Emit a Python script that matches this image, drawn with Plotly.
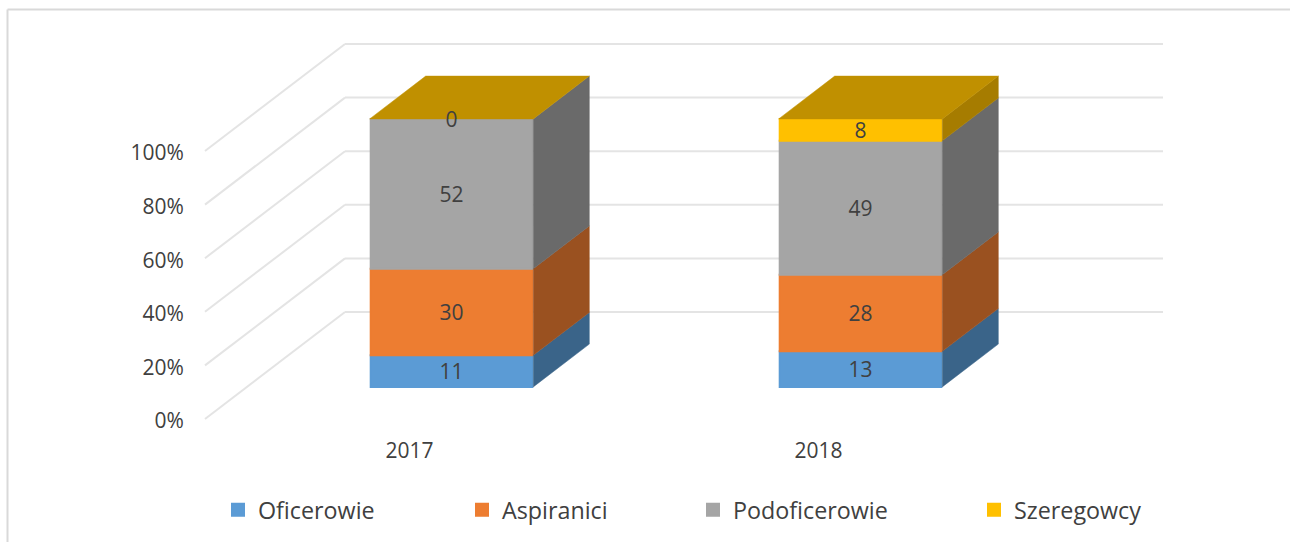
import plotly.graph_objects as go

# ---- data ----
categories = ["2017", "2018"]
series_names = ["Oficerowie", "Aspiranici", "Podoficerowie", "Szeregowcy"]
oficerowie = [11, 13]
aspiranici = [30, 28]
podoficerowie = [52, 49]
szeregowcy = [0, 8]
y_ticks = [0, 20, 40, 60, 80, 100]
y_tick_labels = ["0%", "20%", "40%", "60%", "80%", "100%"]

front_colors = ["#5B9BD5", "#ED7D31", "#A5A5A5", "#FFC000"]
side_colors = ["#3A6489", "#9A5120", "#6A6A6A", "#A67C00"]
top_color = "#C09000"
grid_color = "#E4E4E4"
frame_color = "#D9D9D9"
text_color = "#404040"
font_family = "Open Sans"

# ---- layout geometry (pixels of the 1290x542 page) ----
W, H = 1290, 542
PX_PER_CAT = 409.0
PX_PER_PCT = 2.68
CAT0_PX = 409.5
ZERO_PX = 419.0
DEPTH_X = 140.0 / PX_PER_CAT     # wall depth in x units
DEPTH_Y = 107.0 / PX_PER_PCT     # wall depth in y units
BAR_FRONT = 0.3                  # bar starts this far into the depth
BAR_DEPTH = 0.4
BAR_WIDTH = 0.4
EDGE = 2.0 / PX_PER_CAT
LABEL_NUDGE = 3.0 / PX_PER_PCT   # optical centring of the data labels

all_values = [oficerowie, aspiranici, podoficerowie, szeregowcy]
x_pos = [i for i in range(len(categories))]
bar_x = [x + BAR_FRONT * DEPTH_X for x in x_pos]
totals = [sum(v[i] for v in all_values) for i in x_pos]

# normalised stack
bottoms, heights = [], []
running = [0.0] * len(x_pos)
for vals in all_values:
    pct = [100.0 * vals[i] / totals[i] for i in x_pos]
    bottoms.append(list(running))
    heights.append(pct)
    running = [running[i] + pct[i] for i in x_pos]

fig = go.Figure()
shapes = []

# wall / floor grid lines, behind everything
for t in y_ticks:
    x_a, x_b = -0.5, -0.5 + DEPTH_X
    x_c = 1.5 + DEPTH_X
    y_a, y_b = t, t + DEPTH_Y
    common = dict(type="line", xref="x", yref="y", layer="below",
                  line=dict(color=grid_color, width=2))
    shapes.append(dict(x0=x_a, y0=y_a, x1=x_b, y1=y_b, **common))
    shapes.append(dict(x0=x_b, y0=y_b, x1=x_c, y1=y_b, **common))

# chart frame
frame = dict(type="line", xref="paper", yref="paper", layer="below",
             line=dict(color=frame_color, width=2))
shapes.append(dict(x0=7.5 / W, x1=7.5 / W, y0=0, y1=1 - 9.5 / H, **frame))
shapes.append(dict(x0=7.5 / W, x1=1, y0=1 - 9.5 / H, y1=1 - 9.5 / H, **frame))

# front faces
base_shift = BAR_FRONT * DEPTH_Y
for s, name in enumerate(series_names):
    fig.add_trace(go.Bar(
        x=bar_x,
        y=[h if h > 0 else None for h in heights[s]],
        base=[b + base_shift for b in bottoms[s]],
        width=BAR_WIDTH - EDGE,
        name=name,
        legend="legend" if s == 0 else f"legend{s + 1}",
        marker=dict(color=front_colors[s], line=dict(color=front_colors[s], width=2)),
        hoverinfo="skip",
    ))

# side faces
for s in range(len(series_names)):
    for i in x_pos:
        if heights[s][i] <= 0:
            continue
        xr = bar_x[i] + BAR_WIDTH / 2
        lo = bottoms[s][i] + base_shift
        hi = lo + heights[s][i]
        fig.add_trace(go.Scatter(
            x=[xr, xr + BAR_DEPTH * DEPTH_X, xr + BAR_DEPTH * DEPTH_X, xr, xr],
            y=[lo, lo + BAR_DEPTH * DEPTH_Y, hi + BAR_DEPTH * DEPTH_Y, hi, lo],
            mode="lines", fill="toself", fillcolor=side_colors[s],
            line=dict(color=side_colors[s], width=0.5),
            showlegend=False, hoverinfo="skip",
        ))

# top faces
for i in x_pos:
    xl = bar_x[i] - BAR_WIDTH / 2
    xr = bar_x[i] + BAR_WIDTH / 2
    top = 100 + base_shift
    fig.add_trace(go.Scatter(
        x=[xl, xr, xr + BAR_DEPTH * DEPTH_X, xl + BAR_DEPTH * DEPTH_X, xl],
        y=[top, top, top + BAR_DEPTH * DEPTH_Y, top + BAR_DEPTH * DEPTH_Y, top],
        mode="lines", fill="toself", fillcolor=top_color,
        line=dict(color=top_color, width=0.5),
        showlegend=False, hoverinfo="skip",
    ))

# data labels
for s, vals in enumerate(all_values):
    fig.add_trace(go.Scatter(
        x=bar_x,
        y=[bottoms[s][i] + heights[s][i] / 2 + base_shift - LABEL_NUDGE for i in x_pos],
        text=[str(v) for v in vals],
        mode="text", textposition="middle center",
        textfont=dict(family=font_family, size=21, color=text_color),
        showlegend=False, hoverinfo="skip",
    ))

legend_text_px = [258, 502, 733, 1014]
legends = {}
for s, px in enumerate(legend_text_px):
    key = "legend" if s == 0 else f"legend{s + 1}"
    legends[key] = dict(
        x=(px - 40) / W, xanchor="left", y=1 - 510 / H, yanchor="middle",
        orientation="h", bgcolor="rgba(0,0,0,0)", borderwidth=0, itemwidth=30,
        font=dict(family=font_family, size=23.3, color=text_color),
    )

fig.update_layout(
    width=W, height=H, autosize=False,
    margin=dict(l=0, r=0, t=0, b=0),
    paper_bgcolor="white", plot_bgcolor="white",
    shapes=shapes,
    barmode="overlay",
    showlegend=True,
    font=dict(family=font_family, color=text_color),
    xaxis=dict(
        domain=[0, 1],
        range=[(0 - CAT0_PX) / PX_PER_CAT, (W - CAT0_PX) / PX_PER_CAT],
        tickmode="array", tickvals=x_pos, ticktext=categories,
        ticks="outside", ticklen=13, tickcolor="rgba(0,0,0,0)",
        tickfont=dict(family=font_family, size=21, color=text_color),
        showgrid=False, zeroline=False, showline=False,
        anchor="free", position=1 - ZERO_PX / H,
    ),
    yaxis=dict(
        domain=[0, 1],
        range=[(ZERO_PX - H) / PX_PER_PCT, ZERO_PX / PX_PER_PCT],
        tickmode="array", tickvals=y_ticks, ticktext=y_tick_labels,
        ticks="outside", ticklen=17, tickcolor="rgba(0,0,0,0)",
        tickfont=dict(family=font_family, size=21, color=text_color),
        ticklabelshift=2,
        showgrid=False, zeroline=False, showline=False,
        anchor="free", position=205 / W,
    ),
    **legends,
)

fig.write_html("out.html", config={"displayModeBar": False},
               post_script="document.body.style.margin='0';")
